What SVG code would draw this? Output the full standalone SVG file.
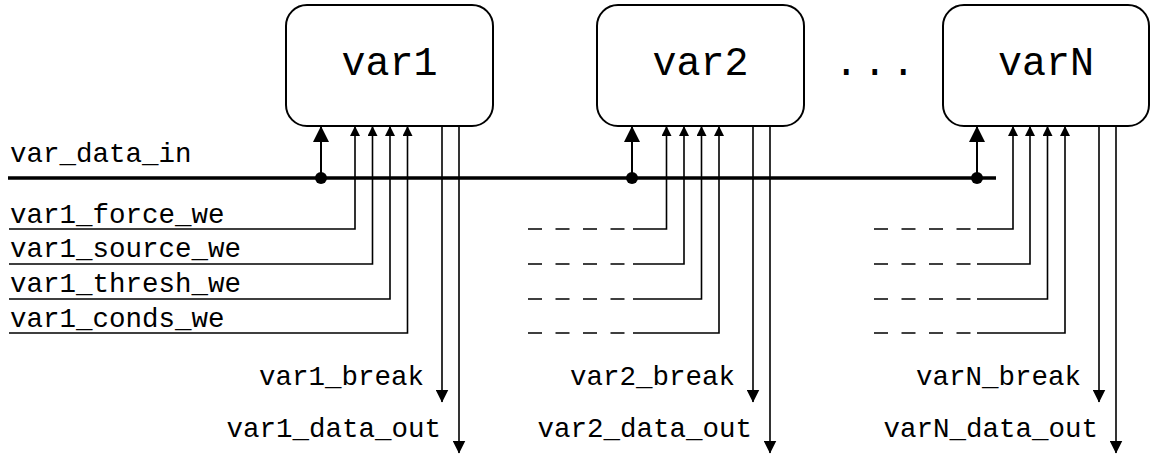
<svg xmlns="http://www.w3.org/2000/svg" width="1150" height="454" viewBox="0 0 1150 454">
  <style>
    .box { fill: #fff; stroke: #000; stroke-width: 2; }
    .title { font-family: "Liberation Mono", "Courier New", monospace; font-size: 40px; fill: #000; text-anchor: middle; }
    .lbl { font-family: "Liberation Mono", "Courier New", monospace; font-size: 27.5px; fill: #000; }
    .end { text-anchor: end; }
    .bus { stroke: #000; stroke-width: 3.5; fill: none; }
    .tap { stroke: #000; stroke-width: 2; fill: none; }
    .wire { stroke: #000; stroke-width: 1.6; fill: none; }
    .dash { stroke: #000; stroke-width: 1.6; fill: none; stroke-dasharray: 14 13.5; }
  </style>
  <defs>
    <marker id="bigHead" markerUnits="userSpaceOnUse" markerWidth="16" markerHeight="16" viewBox="0 0 16 16" refX="15" refY="8" orient="auto">
      <path d="M0,0 L16,8 L0,16 Z" fill="#000"/>
    </marker>
    <marker id="smallHead" markerUnits="userSpaceOnUse" markerWidth="10" markerHeight="10" viewBox="0 0 10 10" refX="9.5" refY="5" orient="auto">
      <path d="M0,0 L10,5 L0,10 Z" fill="#000"/>
    </marker>
    <marker id="outHead" markerUnits="userSpaceOnUse" markerWidth="13" markerHeight="13" viewBox="0 0 13 13" refX="12.5" refY="6.5" orient="auto">
      <path d="M0,0 L13,6.5 L0,13 Z" fill="#000"/>
    </marker>
  </defs>

  <!-- variable blocks -->
  <g id="var1">
    <rect class="box" x="286" y="5" width="207" height="121" rx="21"/>
    <text class="title" x="389.5" y="75">var1</text>
  </g>
  <g id="var2">
    <rect class="box" x="597" y="5" width="207" height="121" rx="21"/>
    <text class="title" x="700.5" y="75">var2</text>
  </g>
  <g id="ellipsis">
    <text class="title" x="877" y="75" letter-spacing="4.5">...</text>
  </g>
  <g id="varN">
    <rect class="box" x="943" y="5" width="206" height="121" rx="21"/>
    <text class="title" x="1046" y="75">varN</text>
  </g>

  <!-- signal labels -->
  <g id="labels">
    <text class="lbl" x="10" y="162">var_data_in</text>
    <text class="lbl" x="10" y="222.5">var1_force_we</text>
    <text class="lbl" x="10" y="257.2">var1_source_we</text>
    <text class="lbl" x="10" y="291.9">var1_thresh_we</text>
    <text class="lbl" x="10" y="326.6">var1_conds_we</text>
    <text class="lbl end" x="424" y="385">var1_break</text>
    <text class="lbl end" x="441" y="436.5">var1_data_out</text>
    <text class="lbl end" x="735" y="385">var2_break</text>
    <text class="lbl end" x="752" y="436.5">var2_data_out</text>
    <text class="lbl end" x="1081" y="385">varN_break</text>
    <text class="lbl end" x="1098" y="436.5">varN_data_out</text>
  </g>

  <!-- connectors -->
  <g id="connectors">
    <!-- shared data bus -->
    <line class="bus" x1="8" y1="178" x2="996" y2="178"/>
    <circle cx="321" cy="178" r="6" fill="#000"/>
    <circle cx="632" cy="178" r="6" fill="#000"/>
    <circle cx="977" cy="178" r="6" fill="#000"/>
    <line class="tap" x1="321" y1="178" x2="321" y2="127" marker-end="url(#bigHead)"/>
    <line class="tap" x1="632" y1="178" x2="632" y2="127" marker-end="url(#bigHead)"/>
    <line class="tap" x1="977" y1="178" x2="977" y2="127" marker-end="url(#bigHead)"/>

    <!-- var1 write enables -->
    <polyline class="wire" points="9,229 355,229 355,126.5" marker-end="url(#smallHead)"/>
    <polyline class="wire" points="9,264 372.5,264 372.5,126.5" marker-end="url(#smallHead)"/>
    <polyline class="wire" points="9,299 390,299 390,126.5" marker-end="url(#smallHead)"/>
    <polyline class="wire" points="9,333 407.5,333 407.5,126.5" marker-end="url(#smallHead)"/>

    <!-- var2 write enables -->
    <line class="dash" x1="528" y1="229" x2="626" y2="229"/>
    <line class="dash" x1="528" y1="264" x2="626" y2="264"/>
    <line class="dash" x1="528" y1="299" x2="626" y2="299"/>
    <line class="dash" x1="528" y1="333" x2="626" y2="333"/>
    <polyline class="wire" points="633,229 666.5,229 666.5,126.5" marker-end="url(#smallHead)"/>
    <polyline class="wire" points="633,264 684,264 684,126.5" marker-end="url(#smallHead)"/>
    <polyline class="wire" points="633,299 701.5,299 701.5,126.5" marker-end="url(#smallHead)"/>
    <polyline class="wire" points="633,333 719,333 719,126.5" marker-end="url(#smallHead)"/>

    <!-- varN write enables -->
    <line class="dash" x1="874" y1="229" x2="972" y2="229"/>
    <line class="dash" x1="874" y1="264" x2="972" y2="264"/>
    <line class="dash" x1="874" y1="299" x2="972" y2="299"/>
    <line class="dash" x1="874" y1="333" x2="972" y2="333"/>
    <polyline class="wire" points="977,229 1013,229 1013,126.5" marker-end="url(#smallHead)"/>
    <polyline class="wire" points="977,264 1030,264 1030,126.5" marker-end="url(#smallHead)"/>
    <polyline class="wire" points="977,299 1047.5,299 1047.5,126.5" marker-end="url(#smallHead)"/>
    <polyline class="wire" points="977,333 1065,333 1065,126.5" marker-end="url(#smallHead)"/>

    <!-- outputs -->
    <line class="wire" x1="442" y1="126" x2="442" y2="402" marker-end="url(#outHead)"/>
    <line class="wire" x1="459" y1="126" x2="459" y2="453" marker-end="url(#outHead)"/>
    <line class="wire" x1="753" y1="126" x2="753" y2="402" marker-end="url(#outHead)"/>
    <line class="wire" x1="770" y1="126" x2="770" y2="453" marker-end="url(#outHead)"/>
    <line class="wire" x1="1099" y1="126" x2="1099" y2="402" marker-end="url(#outHead)"/>
    <line class="wire" x1="1116" y1="126" x2="1116" y2="453" marker-end="url(#outHead)"/>
  </g>
</svg>
